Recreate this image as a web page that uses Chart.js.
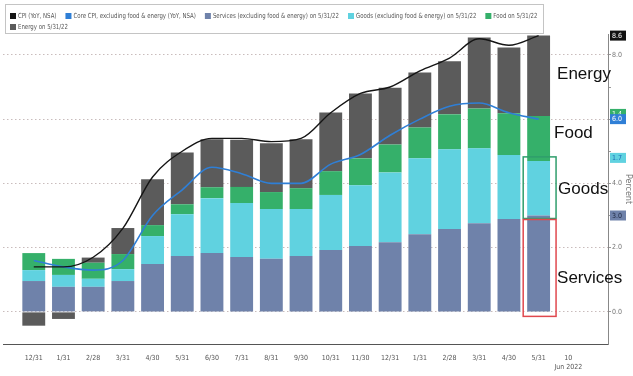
<!DOCTYPE html>
<html>
<head>
<meta charset="utf-8">
<script src="https://cdn.jsdelivr.net/npm/chart.js@4.4.0/dist/chart.umd.min.js"></script>
<style>
  html, body { margin: 0; padding: 0; background: #fff; }
  #wrap { width: 633px; height: 376px; }
</style>
</head>
<body>
<div id="wrap"><canvas id="cpiChart"></canvas></div>
<script>
// fechas de fin de mes (dic 2020 - may 2022) + marca del 10 de junio
const fechas = ['12/31', '1/31', '2/28', '3/31', '4/30', '5/31', '6/30', '7/31', '8/31', '9/30',
  '10/31', '11/30', '12/31', '1/31', '2/28', '3/31', '4/30', '5/31', ['10', 'Jun 2022']]

// contribuciones al IPC interanual (puntos porcentuales)
const servicios = [0.96, 0.78, 0.78, 0.96, 1.49, 1.74, 1.83, 1.71, 1.65, 1.74, 1.93, 2.05, 2.17, 2.42, 2.58, 2.76, 2.89, 3.0]
const bienes = [0.34, 0.37, 0.25, 0.37, 0.87, 1.30, 1.71, 1.68, 1.55, 1.46, 1.71, 1.89, 2.17, 2.36, 2.48, 2.33, 1.99, 1.7]
const alimentos = [0.53, 0.50, 0.50, 0.47, 0.34, 0.31, 0.34, 0.50, 0.53, 0.65, 0.74, 0.84, 0.87, 0.96, 1.09, 1.24, 1.30, 1.4]
const energia = [-0.43, -0.22, 0.16, 0.81, 1.43, 1.61, 1.49, 1.47, 1.52, 1.52, 1.83, 2.02, 1.77, 1.71, 1.65, 2.21, 2.05, 2.5]

// lineas
const ipc = [1.4, 1.4, 1.7, 2.6, 4.2, 5.0, 5.4, 5.4, 5.3, 5.4, 6.2, 6.8, 7.0, 7.5, 7.9, 8.5, 8.3, 8.6]
const ipcCore = [1.6, 1.4, 1.3, 1.6, 3.0, 3.8, 4.5, 4.3, 4.0, 4.0, 4.6, 4.9, 5.5, 6.0, 6.4, 6.5, 6.2, 6.0]

const marcasY = [-1, 0, 1, 2, 3, 4, 5, 6, 7, 8]

const colores = {
  ipc: '#151515',
  core: '#2f7fd6',
  servicios: '#6f82aa',
  bienes: '#60d2e0',
  alimentos: '#35b06a',
  energia: '#5b5b5b'
}

const fuenteChica = "'Liberation Sans Narrow', 'DejaVu Sans Condensed', 'Liberation Sans', sans-serif"

const puntos = arr => arr.map((v, i) => ({ x: i, y: v }))

// texto angosto (la fuente del original es muy condensada)
function textoAngosto(ctx, txt, x, y, k) {
  ctx.save()
  ctx.translate(x, y)
  ctx.scale(k, 1)
  ctx.fillText(txt, 0, 0)
  ctx.restore()
}

// dibuja leyenda con recuadro, etiquetas del eje y textos grandes
const extras = {
  id: 'extras',
  afterDraw(chart) {
    const ctx = chart.ctx
    const y = chart.scales.y
    const sets = chart.data.datasets
    const k = 0.86

    // leyenda
    ctx.save()
    ctx.strokeStyle = '#c4c4c4'
    ctx.lineWidth = 1
    ctx.fillStyle = '#fff'
    ctx.fillRect(5.5, 4.5, 538, 29)
    ctx.strokeRect(5.5, 4.5, 538, 29)
    ctx.font = '7px ' + fuenteChica
    ctx.textBaseline = 'middle'
    let lx = 10
    let ly = 16
    sets.forEach(ds => {
      const w = ctx.measureText(ds.label).width * k + 8
      if (lx + w > 541) { lx = 10; ly += 11 }
      ctx.fillStyle = ds.type === 'line' ? ds.borderColor : ds.backgroundColor
      ctx.fillRect(lx, ly - 3, 6, 6)
      ctx.fillStyle = '#555'
      textoAngosto(ctx, ds.label, lx + 8, ly + 0.5, k)
      lx += w + 9
    })
    ctx.restore()

    // ultima barra
    const n = servicios.length - 1
    const barraB = chart.getDatasetMeta(3).data[n]
    const barraS = chart.getDatasetMeta(2).data[n]
    const izq = barraB.x - barraB.width / 2
    const der = barraB.x + barraB.width / 2

    // recuadros verde y rojo
    ctx.save()
    ctx.lineWidth = 1.5
    ctx.strokeStyle = '#2f9e6c'
    ctx.strokeRect(izq - 4, barraB.y - 4, der - izq + 10, barraB.base - barraB.y + 7)
    ctx.strokeStyle = '#e0484e'
    ctx.strokeRect(izq - 4, barraS.y + 4, der - izq + 10, barraS.base - barraS.y + 1)
    ctx.restore()

    // etiquetas de valor sobre el eje
    const s = servicios[n], b = bienes[n], a = alimentos[n]
    const tags = [
      { v: s + b + a, txt: a.toFixed(1), bg: colores.alimentos, fg: '#fff', dy: -2 },
      { v: s + b, txt: b.toFixed(1), bg: colores.bienes, fg: '#1d6fb8', dy: -3 },
      { v: s, txt: s.toFixed(1), bg: colores.servicios, fg: '#1d2740', dy: 0 },
      { v: ipcCore[n], txt: ipcCore[n].toFixed(1), bg: colores.core, fg: '#fff', dy: 0 },
      { v: ipc[n], txt: ipc[n].toFixed(1), bg: '#111', fg: '#fff', dy: 0 }
    ]
    ctx.save()
    ctx.font = '7px ' + fuenteChica
    ctx.textBaseline = 'middle'
    tags.forEach(t => {
      const py = y.getPixelForValue(t.v) + t.dy
      ctx.fillStyle = t.bg
      ctx.fillRect(610, py - 5, 16, 10)
      ctx.fillStyle = t.fg
      ctx.fillText(t.txt, 612, py + 0.5)
    })
    ctx.restore()

    // textos grandes
    ctx.save()
    ctx.font = '17px "Liberation Sans", Arial, sans-serif'
    ctx.fillStyle = '#111'
    ctx.textBaseline = 'middle'
    ctx.fillText('Energy', der + 7, y.getPixelForValue(7.4))
    ctx.fillText('Food', der + 4, y.getPixelForValue(5.55))
    ctx.fillText('Goods', der + 8, y.getPixelForValue(3.8))
    ctx.fillText('Services', der + 7, y.getPixelForValue(1.05))
    ctx.restore()
  }
}

function grafico_ipc() {
  const ctx = document.getElementById('cpiChart')

  new Chart(ctx, {
    type: 'bar',
    data: {
      datasets: [
        {
          type: 'line', label: 'CPI (YoY, NSA)', data: puntos(ipc), stack: 'ipc',
          borderColor: colores.ipc, borderWidth: 1.4, pointRadius: 0,
          cubicInterpolationMode: 'monotone', order: 0
        },
        {
          type: 'line', label: 'Core CPI, excluding food & energy (YoY, NSA)', data: puntos(ipcCore), stack: 'core',
          borderColor: colores.core, borderWidth: 1.6, pointRadius: 0,
          cubicInterpolationMode: 'monotone', order: 0
        },
        { label: 'Services (excluding food & energy) on 5/31/22', data: puntos(servicios), backgroundColor: colores.servicios, stack: 'barras', order: 1 },
        { label: 'Goods (excluding food & energy) on 5/31/22', data: puntos(bienes), backgroundColor: colores.bienes, stack: 'barras', order: 1 },
        { label: 'Food on 5/31/22', data: puntos(alimentos), backgroundColor: colores.alimentos, stack: 'barras', order: 1 },
        { label: 'Energy on 5/31/22', data: puntos(energia), backgroundColor: colores.energia, stack: 'barras', order: 1 }
      ]
    },
    options: {
      responsive: true,
      maintainAspectRatio: false,
      animation: false,
      devicePixelRatio: 1,
      barPercentage: 0.77,
      categoryPercentage: 1,
      layout: { padding: { top: 34, left: 3, right: 0, bottom: 0 } },
      plugins: {
        legend: { display: false },
        tooltip: { enabled: false }
      },
      scales: {
        x: {
          type: 'linear',
          min: -0.5,
          max: 18.8,
          stacked: true,
          afterBuildTicks: s => { s.ticks = fechas.map((_, i) => ({ value: i })) },
          afterFit: s => { s.height = 32 },
          grid: { display: false },
          border: { color: '#555', width: 1 },
          ticks: {
            callback: v => fechas[v],
            autoSkip: false,
            maxRotation: 0,
            padding: 2,
            color: '#555',
            font: { size: 7, family: fuenteChica, lineHeight: 1.3 }
          }
        },
        y: {
          position: 'right',
          stacked: true,
          min: -1,
          max: 8.65,
          afterBuildTicks: s => { s.ticks = marcasY.map(v => ({ value: v })) },
          afterFit: s => { s.width = 25 },
          grid: {
            color: c => (c.tick && c.tick.value >= 0 && c.tick.value % 2 === 0) ? '#c9bcbc' : 'rgba(0,0,0,0)',
            tickColor: c => (c.tick && c.tick.value >= 0) ? '#999' : 'rgba(0,0,0,0)',
            tickLength: 3,
            lineWidth: 1
          },
          border: { color: '#888', width: 1, dash: [1.5, 2.5] },
          ticks: {
            callback: v => (v >= 0 && v % 2 === 0) ? v.toFixed(1) : '',
            padding: 1,
            color: '#777',
            font: { size: 7, family: fuenteChica }
          },
          title: {
            display: true,
            text: 'Percent',
            color: '#777',
            padding: 0,
            font: { size: 8, family: "'DejaVu Sans', sans-serif" }
          }
        }
      }
    },
    plugins: [extras]
  })
}

grafico_ipc()
</script>
</body>
</html>
